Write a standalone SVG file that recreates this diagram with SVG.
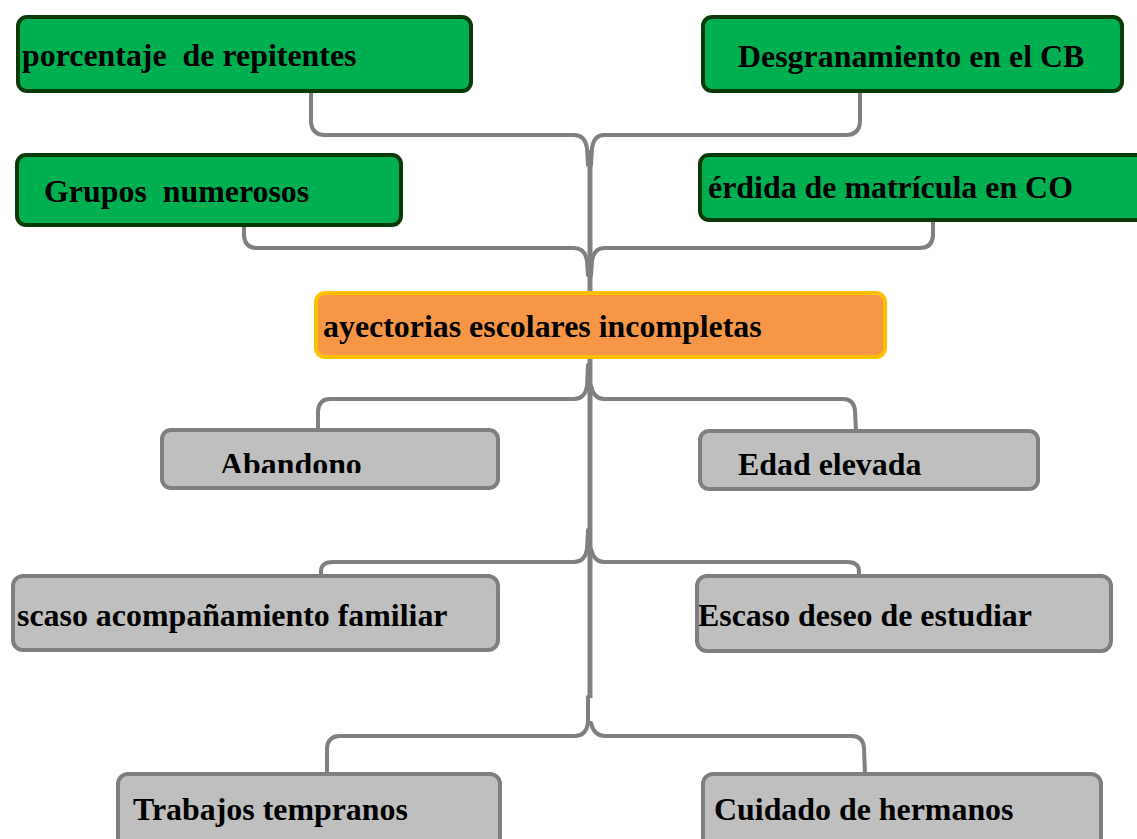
<svg xmlns="http://www.w3.org/2000/svg" width="1137" height="839" viewBox="0 0 1137 839">
<style>
.con{fill:none;stroke:#808080;stroke-width:4;stroke-linecap:round;stroke-linejoin:round}
.trunk{fill:none;stroke:#808080;stroke-width:5}
.g{fill:#00B050;stroke:#0A3A0A;stroke-width:4}
.o{fill:#F79646;stroke:#FFC000;stroke-width:4}
.y{fill:#BFBFBF;stroke:#7F7F7F;stroke-width:4}
text{font-family:"Liberation Serif","Times New Roman",serif;font-weight:bold;font-size:31.9px;fill:#000;white-space:pre}
</style>
<defs>
<clipPath id="cpPer"><rect x="701" y="155" width="436" height="65"/></clipPath>
<clipPath id="cpCen"><rect x="316" y="293" width="569" height="64"/></clipPath>
<clipPath id="cpAba"><rect x="163" y="431" width="334" height="42"/></clipPath>
<clipPath id="cpEda"><rect x="701" y="432" width="336" height="43"/></clipPath>
<clipPath id="cpEsc1"><rect x="14" y="577" width="484" height="72"/></clipPath>
<clipPath id="cpEsc2"><rect x="699" y="577" width="412" height="73"/></clipPath>
</defs>
<g id="connectors">
<path class="trunk" d="M590 150 L590 698"/>
<path class="con" d="M311 92 L311 122 Q312 135 325 135 L574 135 Q585 135 587 148 L588 165"/>
<path class="con" d="M860 92 L860 122 Q859 135 846 135 L604 135 Q594 135 592 148 L591 165"/>
<path class="con" d="M244 226 L244 236 Q245 248 257 248 L574 248 Q585 248 587 261 L588 275"/>
<path class="con" d="M933 220 L933 236 Q932 248 920 248 L604 248 Q594 248 592 261 L591 275"/>
<path class="con" d="M588 365 L587 386 Q585 399 574 399 L330 399 Q319 399 318 411 L318 430"/>
<path class="con" d="M591 386 Q594 399 604 399 L843 399 Q854 399 855 411 L856 431"/>
<path class="con" d="M588 530 L587 549 Q585 562 574 562 L333 562 Q322 562 321 570 L321 577"/>
<path class="con" d="M591 549 Q594 562 604 562 L847 562 Q858 562 859 570 L859 577"/>
<path class="con" d="M588 697 L588 723 Q586 736 575 736 L340 736 Q328 736 327 748 L327 774"/>
<path class="con" d="M591 723 Q594 736 605 736 L852 736 Q863 736 864 748 L865 774"/>
</g>
<g id="n-porcentaje">
<rect class="g" x="18" y="17" width="453" height="74" rx="9"/>
<text x="22" y="66" xml:space="preserve">porcentaje  de repitentes</text>
</g>
<g id="n-desgranamiento">
<rect class="g" x="703" y="17" width="419" height="74" rx="9"/>
<text x="738" y="67">Desgranamiento en el CB</text>
</g>
<g id="n-grupos">
<rect class="g" x="17" y="155" width="384" height="70" rx="9"/>
<text x="44" y="202" xml:space="preserve">Grupos  numerosos</text>
</g>
<g id="n-perdida">
<rect class="g" x="700" y="155" width="450" height="65" rx="9"/>
<text x="708" y="198" clip-path="url(#cpPer)">érdida de matrícula en CO</text>
</g>
<g id="n-trayectorias">
<rect class="o" x="316" y="293" width="569" height="64" rx="9"/>
<text x="323" y="337" clip-path="url(#cpCen)">ayectorias escolares incompletas</text>
</g>
<g id="n-abandono">
<rect class="y" x="162" y="430" width="336" height="58" rx="9"/>
<text x="220" y="475" clip-path="url(#cpAba)">Abandono</text>
</g>
<g id="n-edad">
<rect class="y" x="700" y="431" width="338" height="58" rx="9"/>
<text x="738" y="475" clip-path="url(#cpEda)">Edad elevada</text>
</g>
<g id="n-acompanamiento">
<rect class="y" x="13" y="576" width="485" height="74" rx="10"/>
<text x="17" y="626" clip-path="url(#cpEsc1)">scaso acompañamiento familiar</text>
</g>
<g id="n-deseo">
<rect class="y" x="697" y="576" width="414" height="75" rx="10"/>
<text x="698" y="626" clip-path="url(#cpEsc2)">Escaso deseo de estudiar</text>
</g>
<g id="n-trabajos">
<rect class="y" x="118" y="774" width="382" height="80" rx="10"/>
<text x="133" y="820">Trabajos tempranos</text>
</g>
<g id="n-cuidado">
<rect class="y" x="703" y="774" width="398" height="80" rx="10"/>
<text x="714" y="820">Cuidado de hermanos</text>
</g>
</svg>
